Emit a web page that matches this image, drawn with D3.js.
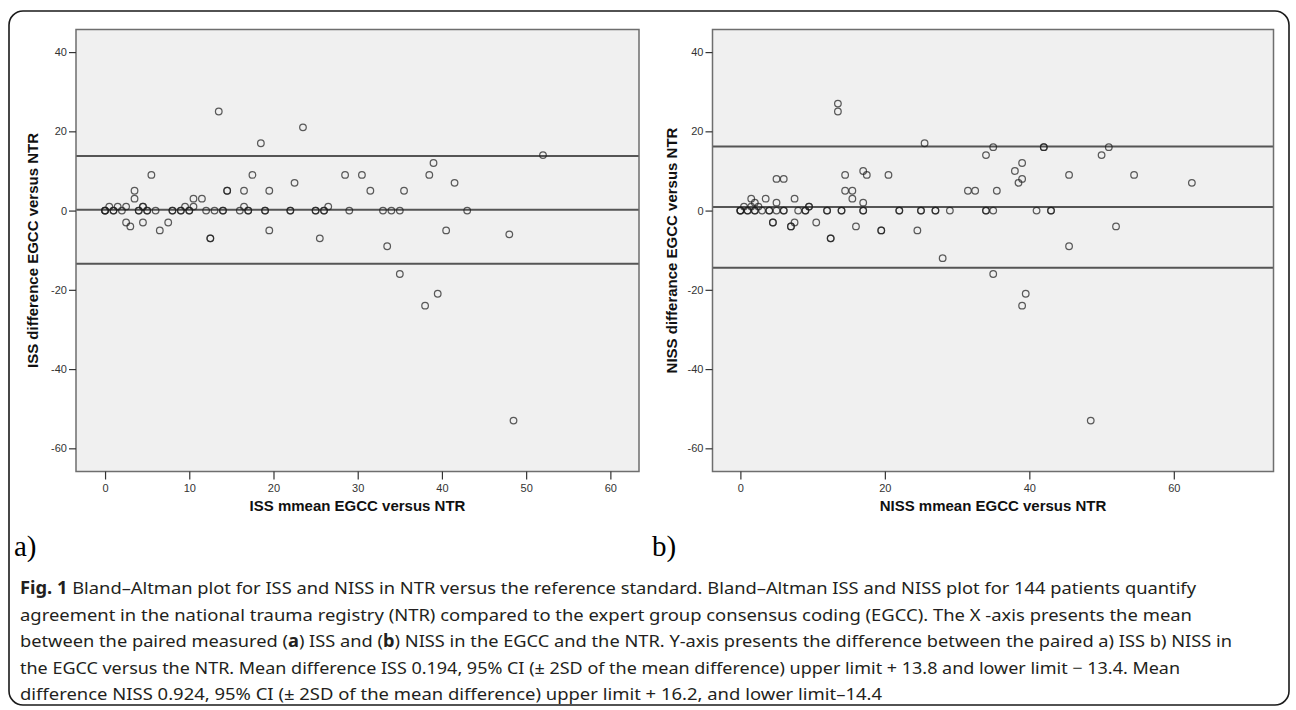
<!DOCTYPE html>
<html>
<head>
<meta charset="utf-8">
<script src="https://cdn.jsdelivr.net/npm/d3@7/dist/d3.min.js"></script>
<style>
  body { margin: 0; background: #fff; }
  svg text { font-family: "Liberation Sans", Arial, sans-serif; }
</style>
</head>
<body>
<svg id="fig" width="1296" height="710"></svg>
<script>
// panel a) ISS: mean of EGCC and NTR vs their difference (one entry per patient, stacked duplicates)
const issMean = [0, 0, 0, 0.5, 1, 1, 1.5, 2, 2.5, 2.5, 3, 3.5, 3.5, 4, 4, 4.5, 4.5, 4.5, 5, 5, 5.5, 6, 6.5, 7.5,
  8, 8, 9, 9, 9.5, 10, 10, 10.5, 10.5, 11.5, 12, 12.5, 12.5, 13, 13.5, 14, 14, 14.5, 14.5, 16, 16.5, 16.5, 17, 17,
  17.5, 18.5, 19, 19, 19.5, 19.5, 22, 22, 22.5, 23.5, 25, 25, 25.5, 26, 26, 26.5, 28.5, 29, 30.5, 31.5, 33, 33.5,
  34, 35, 35, 35.5, 38, 38.5, 39, 39.5, 40.5, 41.5, 43, 48, 48.5, 52];
const issDiff = [0, 0, 0, 1, 0, 0, 1, 0, 1, -3, -4, 5, 3, 0, 0, 1, 1, -3, 0, 0, 9, 0, -5, -3,
  0, 0, 0, 0, 1, 0, 0, 3, 1, 3, 0, -7, -7, 0, 25, 0, 0, 5, 5, 0, 5, 1, 0, 0,
  9, 17, 0, 0, 5, -5, 0, 0, 7, 21, 0, 0, -7, 0, 0, 1, 9, 0, 9, 5, 0, -9,
  0, 0, -16, 5, -24, 9, 12, -21, -5, 7, 0, -6, -53, 14];
const issLimits = [13.8, 0.194, -13.4];

// panel b) NISS
const nissMean = [0, 0, 0, 0.5, 1, 1, 1.5, 1.5, 2, 2, 2, 2.5, 3, 3.5, 4, 4, 4.5, 4.5, 5, 5, 5, 6, 6, 6,
  7, 7, 7.5, 7.5, 8, 9, 9, 9.5, 9.5, 10.5, 12, 12, 12.5, 12.5, 13.5, 13.5, 14, 14, 14.5, 14.5, 15.5, 15.5, 16,
  17, 17, 17, 17, 17.5, 19.5, 19.5, 20.5, 22, 22, 24.5, 25, 25, 25.5, 27, 27, 28, 29, 31.5, 32.5, 34, 34, 34,
  35, 35, 35, 35.5, 38, 38.5, 39, 39, 39, 39.5, 41, 42, 42, 43, 43, 45.5, 45.5, 48.5, 50, 51, 52, 54.5, 62.5];
const nissDiff = [0, 0, 0, 1, 0, 0, 3, 1, 2, 0, 0, 1, 0, 3, 0, 0, -3, -3, 8, 2, 0, 8, 0, 0,
  -4, -4, 3, -3, 0, 0, 0, 1, 1, -3, 0, 0, -7, -7, 27, 25, 0, 0, 9, 5, 5, 3, -4,
  10, 2, 0, 0, 9, -5, -5, 9, 0, 0, -5, 0, 0, 17, 0, 0, -12, 0, 5, 5, 14, 0, 0,
  16, 0, -16, 5, 10, 7, 12, 8, -24, -21, 0, 16, 16, 0, 0, 9, -9, -53, 14, 16, -4, 9, 7];
const nissLimits = [16.2, 0.924, -14.4];

const yTicks = [40, 20, 0, -20, -40, -60];
const issXTicks = [0, 10, 20, 30, 40, 50, 60];
const nissXTicks = [0, 20, 40, 60];

const captionLines = [
  [["Fig. 1", true], [" Bland–Altman plot for ISS and NISS in NTR versus the reference standard. Bland–Altman ISS and NISS plot for 144 patients quantify", false]],
  [["agreement in the national trauma registry (NTR) compared to the expert group consensus coding (EGCC). The X -axis presents the mean", false]],
  [["between the paired measured (", false], ["a", true], [") ISS and (", false], ["b", true], [") NISS in the EGCC and the NTR. Y-axis presents the difference between the paired a) ISS b) NISS in", false]],
  [["the EGCC versus the NTR. Mean difference ISS 0.194, 95% CI (± 2SD of the mean difference) upper limit + 13.8 and lower limit − 13.4. Mean", false]],
  [["difference NISS 0.924, 95% CI (± 2SD of the mean difference) upper limit + 16.2, and lower limit–14.4", false]]
];
const captionWidths = [1176, 1172, 1212, 1160, 862];

const svg = d3.select("#fig");

// rounded outer frame
svg.append("rect")
  .attr("x", 9).attr("y", 11)
  .attr("width", 1280).attr("height", 694)
  .attr("rx", 14).attr("ry", 14)
  .attr("fill", "none")
  .attr("stroke", "#1a1a1a")
  .attr("stroke-width", 1.6);

const plotTop = 29.5, plotBottom = 471.5;
const y = d3.scaleLinear().domain([-65.85, 45.7]).range([plotBottom, plotTop]);

function drawPanel(opts) {
  const x = d3.scaleLinear().domain(opts.xDomain).range([opts.left, opts.right]);
  const g = svg.append("g");

  g.append("rect")
    .attr("x", opts.left).attr("y", plotTop)
    .attr("width", opts.right - opts.left).attr("height", plotBottom - plotTop)
    .attr("fill", "#f0f0f0");

  // mean and +/- 2SD lines
  g.selectAll(".limit")
    .data(opts.limits)
    .enter().append("line")
    .attr("class", "limit")
    .attr("x1", opts.left).attr("x2", opts.right)
    .attr("y1", d => y(d)).attr("y2", d => y(d))
    .attr("stroke", "#555")
    .attr("stroke-width", 2);

  g.selectAll(".pt")
    .data(d3.range(opts.xs.length))
    .enter().append("circle")
    .attr("class", "pt")
    .attr("cx", i => x(opts.xs[i]))
    .attr("cy", i => y(opts.ys[i]))
    .attr("r", 3.3)
    .attr("fill", "none")
    .attr("stroke", "#1e1e1e")
    .attr("stroke-opacity", 0.72)
    .attr("stroke-width", 1.25);

  g.append("rect")
    .attr("x", opts.left).attr("y", plotTop)
    .attr("width", opts.right - opts.left).attr("height", plotBottom - plotTop)
    .attr("fill", "none")
    .attr("stroke", "#6e6e6e")
    .attr("stroke-width", 1.5);

  const xAxis = g.append("g")
    .attr("transform", "translate(0," + plotBottom + ")")
    .call(d3.axisBottom(x).tickValues(opts.xTicks).tickSize(8).tickPadding(5).tickFormat(d => String(d)));
  const yAxis = g.append("g")
    .attr("transform", "translate(" + opts.left + ",0)")
    .call(d3.axisLeft(y).tickValues(yTicks).tickSize(7).tickPadding(2).tickFormat(d => String(d)));

  [xAxis, yAxis].forEach(a => {
    a.select(".domain").remove();
    a.selectAll(".tick line").attr("stroke", "#333").attr("stroke-width", 1.2);
    a.selectAll(".tick text")
      .attr("fill", "#333")
      .style("font-size", "11px")
      .style("font-family", "'Liberation Sans Narrow', 'Liberation Sans', Arial, sans-serif");
  });

  g.append("text")
    .attr("x", (opts.left + opts.right) / 2)
    .attr("y", 511)
    .attr("text-anchor", "middle")
    .attr("font-size", 15)
    .attr("font-weight", "bold")
    .attr("fill", "#111")
    .text(opts.xLabel);

  g.append("text")
    .attr("transform", "translate(" + opts.yLabelX + "," + ((plotTop + plotBottom) / 2) + ") rotate(-90)")
    .attr("text-anchor", "middle")
    .attr("font-size", 15)
    .attr("font-weight", "bold")
    .attr("fill", "#111")
    .text(opts.yLabel);

  svg.append("text")
    .attr("x", opts.tagX).attr("y", 556)
    .attr("font-size", 29)
    .style("font-family", "'Liberation Serif', 'Times New Roman', serif")
    .attr("fill", "#000")
    .text(opts.tag);
}

drawPanel({
  left: 76, right: 639, xDomain: [-3.45, 63.4],
  xs: issMean, ys: issDiff, limits: issLimits, xTicks: issXTicks,
  xLabel: "ISS mmean EGCC versus NTR",
  yLabel: "ISS difference EGCC versus NTR", yLabelX: 38,
  tag: "a)", tagX: 14
});

drawPanel({
  left: 712.5, right: 1273.5, xDomain: [-3.86, 73.8],
  xs: nissMean, ys: nissDiff, limits: nissLimits, xTicks: nissXTicks,
  xLabel: "NISS mmean EGCC versus NTR",
  yLabel: "NISS differance EGCC versus NTR", yLabelX: 677,
  tag: "b)", tagX: 652
});

// caption, squeezed to the measured line widths (condensed face in the original)
const cap = svg.append("g");
captionLines.forEach((segs, i) => {
  const t = cap.append("text")
    .attr("x", 20)
    .attr("y", 594 + i * 26.5)
    .attr("font-size", 17)
    .attr("fill", "#231f20")
    .attr("textLength", captionWidths[i])
    .attr("lengthAdjust", "spacingAndGlyphs")
    .style("font-family", "'Noto Sans', 'Open Sans', sans-serif");
  segs.forEach(s => {
    t.append("tspan")
      .attr("font-weight", s[1] ? "bold" : "normal")
      .text(s[0]);
  });
});
</script>
</body>
</html>
